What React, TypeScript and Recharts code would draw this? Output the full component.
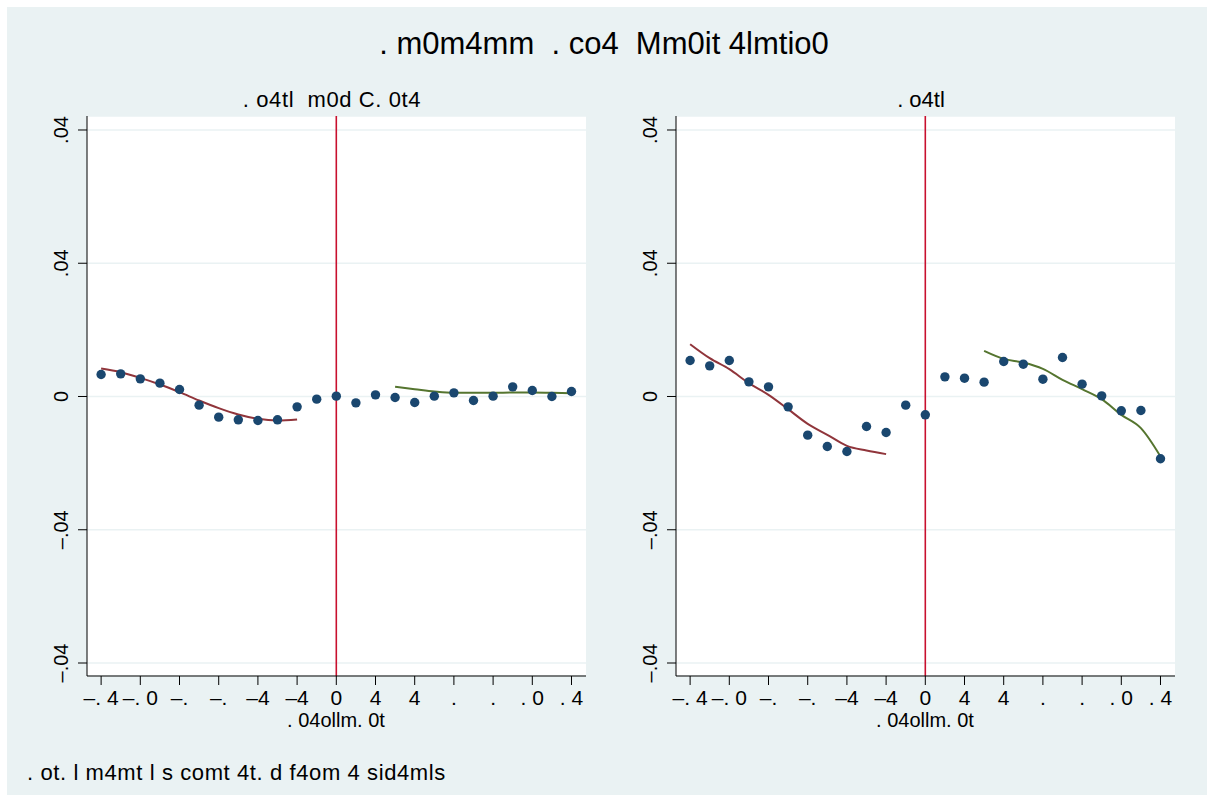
import React from 'react'
import {
  ComposedChart,
  Scatter,
  Line,
  XAxis,
  YAxis,
  CartesianGrid,
  ReferenceLine,
} from 'recharts'

// bins of the running variable
const bins = [-12, -11, -10, -9, -8, -7, -6, -5, -4, -3, -2, -1, 0, 1, 2, 3, 4, 5, 6, 7, 8, 9, 10, 11, 12]
const fitBinsLeft = [-12, -11, -10, -9, -8, -7, -6, -5, -4, -3, -2]
const fitBinsRight = [3, 4, 5, 6, 7, 8, 9, 10, 11, 12]

const xTicks = [-12, -10, -8, -6, -4, -2, 0, 2, 4, 6, 8, 10, 12]
const xTickLabels = ['–. 4', '–. 0', '–.', '–.', '–4', '–4', '0', '4', '4', '.', '.', '. 0', '. 4']
const yTicks = [-0.08, -0.04, 0, 0.04, 0.08]
const yTickLabels = ['–.04', '–.04', '0', '.04', '.04']

// panel 1
const meansA = [0.0066, 0.0068, 0.0053, 0.004, 0.0021, -0.0026, -0.0062, -0.007, -0.0072, -0.007, -0.0031, -0.0008, 0.0001, -0.0019, 0.0005, -0.0003, -0.0018, 0.0001, 0.0011, -0.0012, 0.0001, 0.0029, 0.0018, 0.0, 0.0015]
const fitLeftA = [0.0084, 0.0073, 0.0056, 0.0036, 0.0013, -0.0012, -0.0035, -0.0054, -0.0067, -0.0072, -0.0069]
const fitRightA = [0.0029, 0.0022, 0.0015, 0.0011, 0.0011, 0.0011, 0.0012, 0.0012, 0.0011, 0.001]

// panel 2
const meansB = [0.0108, 0.0092, 0.0108, 0.0044, 0.0029, -0.0031, -0.0116, -0.015, -0.0165, -0.009, -0.0108, -0.0026, -0.0055, 0.0059, 0.0055, 0.0043, 0.0105, 0.0097, 0.0052, 0.0117, 0.0037, 0.0002, -0.0043, -0.0042, -0.0187]
const fitLeftB = [0.0157, 0.0115, 0.0082, 0.004, 0.0005, -0.0038, -0.0082, -0.0115, -0.0148, -0.0162, -0.0173]
const fitRightB = [0.0137, 0.0113, 0.0102, 0.0083, 0.005, 0.0022, -0.0008, -0.0055, -0.0095, -0.018]

const FONT = '"Liberation Sans", Arial, sans-serif'
const NAVY = '#1a476f'
const MAROON = '#90353b'
const GREEN = '#55752f'
const CUTOFF = '#c8102e'
const BG = '#eaf2f3'

const pre = { whiteSpace: 'pre' as const }

const pairs = (xs: number[], ys: number[]) => xs.map((x, i) => ({ x, y: ys[i] }))

const XTick = (props: any) => {
  const { x, payload } = props
  const i = xTicks.indexOf(payload.value)
  return (
    <text x={x} y={705} textAnchor="middle" fontSize={21} fontFamily={FONT} fill="#000" style={pre}>
      {xTickLabels[i]}
    </text>
  )
}

const YTick = (props: any) => {
  const { y, payload } = props
  const i = yTicks.findIndex((t) => Math.abs(t - payload.value) < 1e-9)
  return (
    <text
      x={61}
      y={y}
      dy="0.36em"
      transform={`rotate(-90, 61, ${y})`}
      textAnchor="middle"
      fontSize={20}
      fontFamily={FONT}
      fill="#000"
    >
      {yTickLabels[i]}
    </text>
  )
}

const Dot = (props: any) => <circle cx={props.cx} cy={props.cy} r={4.7} fill={NAVY} />

function Panel({ left, means, fitL, fitR }: { left: number; means: number[]; fitL: number[]; fitR: number[] }) {
  return (
    <div style={{ position: 'absolute', left, top: 0 }}>
      <ComposedChart width={620} height={760} margin={{ top: 116, right: 34, bottom: 34, left: 27 }}>
        <CartesianGrid horizontal vertical={false} stroke={BG} strokeWidth={1.5} fill="#ffffff" />
        <XAxis
          dataKey="x"
          type="number"
          domain={[-12.72, 12.74]}
          ticks={xTicks}
          interval={0}
          height={50}
          tickSize={9}
          stroke="#000"
          tick={<XTick />}
          allowDataOverflow
        />
        <YAxis
          dataKey="y"
          type="number"
          domain={[-0.0839, 0.0842]}
          ticks={yTicks}
          interval={0}
          width={60}
          tickSize={9}
          stroke="#000"
          tick={<YTick />}
          allowDataOverflow
        />
        <ReferenceLine x={0} stroke={CUTOFF} strokeWidth={1.6} />
        <Scatter data={pairs(bins, means)} dataKey="y" shape={<Dot />} isAnimationActive={false} />
        <Line
          data={pairs(fitBinsLeft, fitL)}
          dataKey="y"
          type="monotone"
          stroke={MAROON}
          strokeWidth={2}
          dot={false}
          activeDot={false}
          isAnimationActive={false}
        />
        <Line
          data={pairs(fitBinsRight, fitR)}
          dataKey="y"
          type="monotone"
          stroke={GREEN}
          strokeWidth={2}
          dot={false}
          activeDot={false}
          isAnimationActive={false}
        />
      </ComposedChart>
    </div>
  )
}

export default function App() {
  return (
    <div style={{ position: 'absolute', left: 0, top: 0, width: 1214, height: 802, background: '#fff', fontFamily: FONT }}>
      <div style={{ position: 'absolute', left: 7, top: 7, width: 1200, height: 788, background: BG }} />
      <svg width={1214} height={802} style={{ position: 'absolute', left: 0, top: 0 }}>
        <text x={604} y={54} textAnchor="middle" fontSize={31} fontFamily={FONT} fill="#000" style={pre}>
          {'. m0m4mm  . co4  Mm0it 4lmtio0'}
        </text>
        <text x={332} y={107} textAnchor="middle" fontSize={22} fontFamily={FONT} fill="#000" style={pre} letterSpacing={0.6}>
          {'. o4tl  m0d C. 0t4'}
        </text>
        <text x={921} y={107} textAnchor="middle" fontSize={22} fontFamily={FONT} fill="#000" style={pre}>
          {'. o4tl'}
        </text>
        <text x={336} y={727} textAnchor="middle" fontSize={20} fontFamily={FONT} fill="#000" style={pre}>
          {'. 04ollm. 0t'}
        </text>
        <text x={925} y={727} textAnchor="middle" fontSize={20} fontFamily={FONT} fill="#000" style={pre}>
          {'. 04ollm. 0t'}
        </text>
        <text x={27} y={780} fontSize={22} fontFamily={FONT} fill="#000" style={pre} letterSpacing={0.6}>
          {'. ot. l m4mt l s comt 4t. d f4om 4 sid4mls'}
        </text>
      </svg>
      <Panel left={0} means={meansA} fitL={fitLeftA} fitR={fitRightA} />
      <Panel left={589} means={meansB} fitL={fitLeftB} fitR={fitRightB} />
    </div>
  )
}
